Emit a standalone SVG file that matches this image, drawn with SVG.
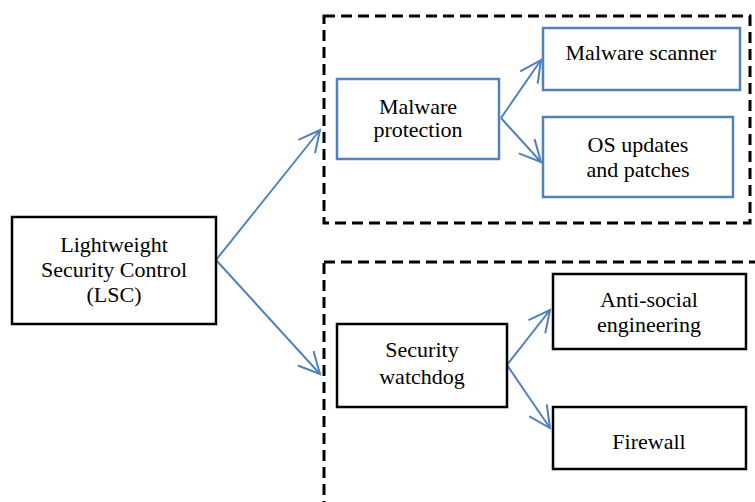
<svg xmlns="http://www.w3.org/2000/svg" width="755" height="502" viewBox="0 0 755 502">
<style>
text{font-family:"Liberation Serif","Times New Roman",serif;font-size:22px;fill:#000;text-anchor:middle}
.blk{fill:#fff;stroke:#000;stroke-width:2.5}
.blu{fill:#fff;stroke:#4F81BD;stroke-width:2.5}
.dash{fill:none;stroke:#000;stroke-width:3;stroke-dasharray:11 6}
.conn{stroke:#4F81BD;stroke-width:2;fill:none}
</style>
<defs>
<marker id="arr" viewBox="0 0 20 20" refX="18" refY="10" markerWidth="25" markerHeight="25" markerUnits="userSpaceOnUse" orient="auto">
<path d="M1,1.5 L18,10 L1,18.5" fill="none" stroke="#4F81BD" stroke-width="1.6"/>
</marker>
</defs>
<rect class="dash" x="324" y="16" width="426" height="207"/>
<rect class="dash" x="324" y="262" width="460" height="260"/>
<g id="connectors">
<line class="conn" x1="216" y1="260" x2="320" y2="130" marker-end="url(#arr)"/>
<line class="conn" x1="216" y1="260" x2="320" y2="374" marker-end="url(#arr)"/>
<line class="conn" x1="501" y1="118" x2="541" y2="60" marker-end="url(#arr)"/>
<line class="conn" x1="501" y1="118" x2="541" y2="162" marker-end="url(#arr)"/>
<line class="conn" x1="507" y1="365" x2="550" y2="310" marker-end="url(#arr)"/>
<line class="conn" x1="507" y1="365" x2="550" y2="428" marker-end="url(#arr)"/>
</g>
<g id="lsc">
<rect class="blk" x="12" y="217" width="204" height="107"/>
<text x="114" y="252">Lightweight</text>
<text x="114" y="277">Security Control</text>
<text x="114" y="302">(LSC)</text>
</g>
<g id="malware-protection">
<rect class="blu" x="337" y="79" width="162" height="80"/>
<text x="418" y="114">Malware</text>
<text x="418" y="137">protection</text>
</g>
<g id="malware-scanner">
<rect class="blu" x="543" y="28" width="197" height="62"/>
<text x="641" y="60">Malware scanner</text>
</g>
<g id="os-updates">
<rect class="blu" x="543" y="117" width="190" height="80"/>
<text x="638" y="152">OS updates</text>
<text x="638" y="177">and patches</text>
</g>
<g id="security-watchdog">
<rect class="blk" x="337" y="324" width="170" height="83"/>
<text x="422" y="357">Security</text>
<text x="422" y="384">watchdog</text>
</g>
<g id="anti-social">
<rect class="blk" x="553" y="274" width="193" height="75"/>
<text x="649" y="307">Anti-social</text>
<text x="649" y="332">engineering</text>
</g>
<g id="firewall">
<rect class="blk" x="553" y="407" width="193" height="62"/>
<text x="649" y="449">Firewall</text>
</g>
</svg>
